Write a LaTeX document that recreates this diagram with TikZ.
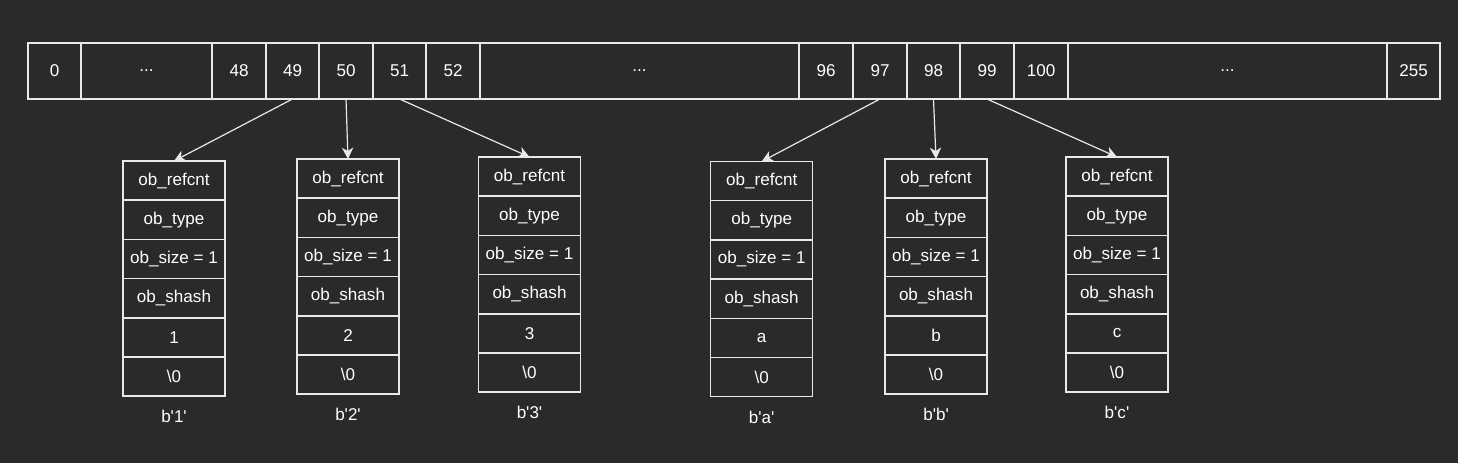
\documentclass[tikz,border=0pt]{standalone}
\usepackage{fontspec}
\setmainfont{Liberation Sans}[Ligatures=TeXOff]
\usetikzlibrary{arrows.meta,positioning}
\definecolor{bgdark}{RGB}{42,42,42}
\definecolor{linegray}{RGB}{232,232,232}
\newcommand{\gapdots}{...}

\begin{document}
\begin{tikzpicture}[x=0.75pt, y=-0.75pt,
        every node/.style={text=white, font=\fontsize{12.8}{15}\selectfont},
        cell/.style={draw=linegray, line width=1.1pt, minimum height=42pt, inner sep=0pt, outer sep=0pt},
        field/.style={draw=linegray, line width=1.1pt, minimum width=76.5pt, minimum height=29.4pt, inner sep=0pt, outer sep=0pt},
        ptr/.style={-{Stealth[length=8.5pt, width=8.5pt, inset=2.5pt]}, draw=linegray, line width=0.9pt}]
        % --- Background ---
        \fill[bgdark] (0,0) rectangle (1458,463);
        % ---

        % --- Draw the cache array of single bytes ---
        \foreach \l/\r/\txt/\nm in {28/81/0/c0, 81/212/\gapdots/cA, 212/266/48/c48, 266/319/49/c49,
                319/373/50/c50, 373/426/51/c51, 426/480/52/c52, 480/799/\gapdots/cB,
                799/853/96/c96, 853/907/97/c97, 907/960/98/c98, 960/1014/99/c99,
                1014/1068/100/c100, 1068/1387/\gapdots/cC, 1387/1440/255/c255}
            \node[cell, minimum width={(\r-\l)*0.75pt}, anchor=west] (\nm) at (\l,71) {\txt};
        % ---

        % --- Draw bytes objects and the pointers to them ---
        \foreach \bx/\cx/\ty/\val/\src in {1/174/161/1/49, 2/348/159/2/50, 3/529.5/157/3/51,
                a/761.7/161.5/a/97, b/936/159/b/98, c/1117/157/c/99} {
            \node[field, anchor=north] (\bx-1) at (\cx,\ty) {ob\_refcnt};
            \node[field, below=0pt of \bx-1] (\bx-2) {ob\_type};
            \node[field, below=0pt of \bx-2] (\bx-3) {ob\_size = 1};
            \node[field, below=0pt of \bx-3] (\bx-4) {ob\_shash};
            \node[field, below=0pt of \bx-4] (\bx-5) {\val};
            \node[field, below=0pt of \bx-5] (\bx-6) {\textbackslash 0};
            \node[below=7pt of \bx-6] (\bx-name) {b'\val'};
            \draw[ptr] (c\src.south) -- (\bx-1.north);
        }
        % ---
    \end{tikzpicture}
\end{document}
